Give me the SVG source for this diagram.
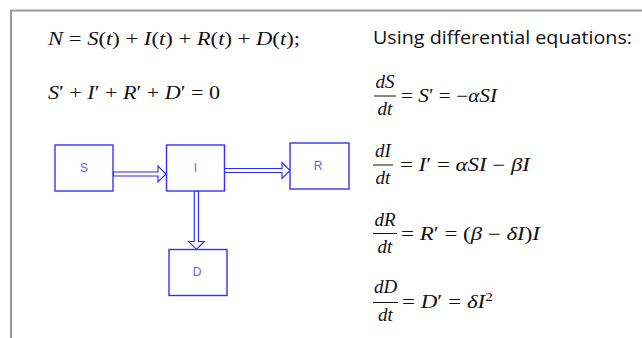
<svg xmlns="http://www.w3.org/2000/svg" width="642" height="338" viewBox="0 0 642 338">
<style>
.frame{fill:none;stroke:#999;stroke-width:2}
.box rect{fill:#fff;stroke:#3333f5;stroke-width:1.4}
.box text{font-family:"Liberation Sans",Arial,sans-serif;font-size:12px;fill:#6a5cff;text-anchor:middle}
.arr{fill:#fff;stroke:#2a2af0;stroke-width:1.1;stroke-linejoin:miter}
.m{font-family:"Liberation Serif","Times New Roman",serif;font-size:19px;fill:#111}
.r{font-family:"Liberation Serif","Times New Roman",serif;font-size:18px;fill:#111}
.f{font-family:"Liberation Serif","Times New Roman",serif;font-size:19px;fill:#111;font-style:italic;text-anchor:middle}
.i{font-style:italic}
.bar{stroke:#111;stroke-width:1}
.t{font-family:"Open Sans","Liberation Sans",sans-serif;font-size:19px;fill:#111}
</style>
<path class="frame" d="M11,338 V10.5 H642"/>

<g id="left-eqs">
<text class="m" x="48" y="45" textLength="252" lengthAdjust="spacingAndGlyphs"><tspan class="i">N</tspan> = <tspan class="i">S</tspan>(<tspan class="i">t</tspan>) + <tspan class="i">I</tspan>(<tspan class="i">t</tspan>) + <tspan class="i">R</tspan>(<tspan class="i">t</tspan>) + <tspan class="i">D</tspan>(<tspan class="i">t</tspan>);</text>
<text class="m" x="48" y="99" textLength="172" lengthAdjust="spacingAndGlyphs"><tspan class="i">S</tspan>′ + <tspan class="i">I</tspan>′ + <tspan class="i">R</tspan>′ + <tspan class="i">D</tspan>′ = 0</text>
</g>

<g id="title">
<text class="t" x="373" y="44" textLength="259" lengthAdjust="spacingAndGlyphs">Using differential equations:</text>
</g>

<g id="eq-S">
<text class="f" x="385" y="88">dS</text>
<line class="bar" x1="374" y1="96" x2="396" y2="96"/>
<text class="f" x="385" y="115">dt</text>
<text class="r" x="401" y="101.5" textLength="96" lengthAdjust="spacingAndGlyphs">= <tspan class="i">S</tspan>′ = −<tspan class="i">αSI</tspan></text>
</g>
<g id="eq-I">
<text class="f" x="383" y="157">dI</text>
<line class="bar" x1="373" y1="165" x2="393" y2="165"/>
<text class="f" x="383" y="184">dt</text>
<text class="r" x="400" y="170.5" textLength="130" lengthAdjust="spacingAndGlyphs">= <tspan class="i">I</tspan>′ = <tspan class="i">αSI</tspan> −  <tspan class="i">βI</tspan></text>
</g>
<g id="eq-R">
<text class="f" x="385" y="225.5">dR</text>
<line class="bar" x1="373" y1="233.5" x2="397" y2="233.5"/>
<text class="f" x="385" y="252.5">dt</text>
<text class="r" x="401" y="240" textLength="139" lengthAdjust="spacingAndGlyphs">= <tspan class="i">R</tspan>′ = (<tspan class="i">β</tspan> − <tspan class="i">δI</tspan>)<tspan class="i">I</tspan></text>
</g>
<g id="eq-D">
<text class="f" x="385.5" y="293">dD</text>
<line class="bar" x1="373" y1="302.5" x2="398" y2="302.5"/>
<text class="f" x="385.5" y="321">dt</text>
<text class="r" x="402" y="307.5" textLength="91" lengthAdjust="spacingAndGlyphs">= <tspan class="i">D</tspan>′ = <tspan class="i">δI</tspan><tspan font-size="12" dy="-7">2</tspan></text>
</g>

<g id="connectors">
<polygon class="arr" points="113.5,172 158,172 158,166 166,174 158,182 158,176 113.5,176"/>
<polygon class="arr" points="224.5,168.5 282,168.5 282,162.5 290,170.5 282,178.5 282,172.5 224.5,172.5"/>
<polygon class="arr" points="194.3,191 194.3,241.5 188.5,241.5 196.4,249.3 204.3,241.5 198.5,241.5 198.5,191"/>
</g>

<g id="node-S" class="box"><rect x="55" y="145" width="58" height="46"/><text x="84" y="172">S</text></g>
<g id="node-I" class="box"><rect x="166.5" y="145" width="58" height="46"/><text x="195.5" y="172">I</text></g>
<g id="node-R" class="box"><rect x="290" y="143" width="59" height="46"/><text x="318" y="170">R</text></g>
<g id="node-D" class="box"><rect x="169" y="249.5" width="58" height="46"/><text x="197" y="275.5">D</text></g>
</svg>
